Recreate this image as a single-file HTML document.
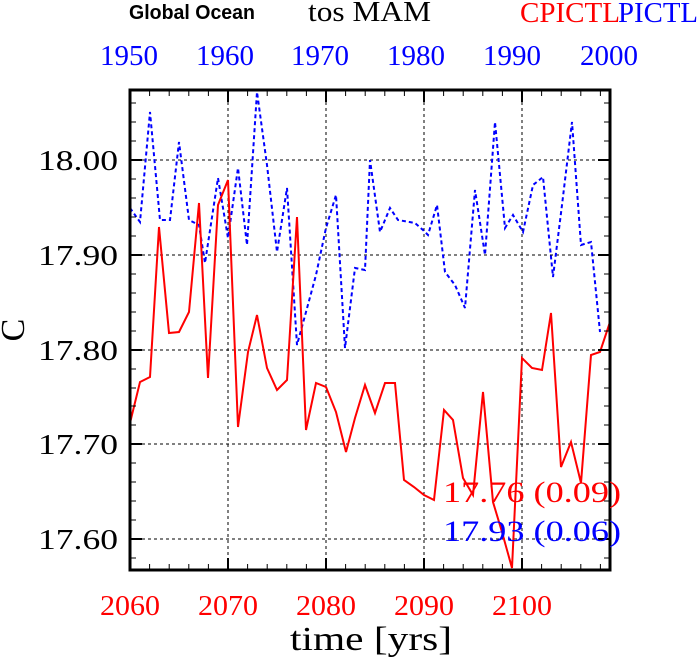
<!DOCTYPE html>
<html><head><style>html,body{margin:0;padding:0;background:#fff}svg{display:block}</style></head>
<body>
<svg width="698" height="660" xmlns="http://www.w3.org/2000/svg" font-family="Liberation Serif, serif">
<rect width="698" height="660" fill="#fff"/>
<g stroke="#000" stroke-width="1" stroke-dasharray="3,3">
<line x1="228" y1="90" x2="228" y2="570"/><line x1="326" y1="90" x2="326" y2="570"/>
<line x1="424" y1="90" x2="424" y2="570"/><line x1="522" y1="90" x2="522" y2="570"/>
<line x1="130" y1="160" x2="610" y2="160"/><line x1="130" y1="255" x2="610" y2="255"/>
<line x1="130" y1="350" x2="610" y2="350"/><line x1="130" y1="444" x2="610" y2="444"/>
<line x1="130" y1="539" x2="610" y2="539"/>
</g>
<polyline fill="none" stroke="#00f" stroke-width="2" stroke-dasharray="4,3" points="130,208 140,222 150,112 160,220 170,220 179,142 189,220 199,225 205,263 218,178 228,238 238,168 247,245 257,92 267,165 277,252 287,188 297,345 306,312 316,275 326,228 336,195 345,348 355,268 365,270 370,160 380,232 390,208 398,220 415,223 423,230 428,235 437,205 445,272 455,285 465,308 475,190 485,255 495,122 505,228 513,215 523,232 533,185 543,177 553,277 562,205 572,122 581,245 591,242 600,332"/>
<polyline fill="none" stroke="#f00" stroke-width="2" points="130,423 140,382 150,377 159,227 169,333 179,332 189,312 199,203 208,378 218,205 228,180 238,427 248,352 257,315 267,368 277,390 287,380 297,217 306,430 316,383 326,387 336,412 346,452 355,418 365,385 375,413 385,383 395,383 404,480 414,487 424,495 434,500 444,410 453,420 463,478 473,495 483,392 493,502 502,532 512,568 522,358 532,368 542,370 551,313 561,467 571,442 581,483 591,355 600,352 610,322"/>
<rect x="130" y="90" width="480" height="480" fill="none" stroke="#000" stroke-width="3"/>
<g stroke="#000" stroke-width="2">
<path d="M130,90v12M228,90v12M326,90v12M424,90v12M522,90v12M130,570v-12M228,570v-12M326,570v-12M424,570v-12M522,570v-12"/>
<path d="M130,160h12M130,255h12M130,350h12M130,444h12M130,539h12M610,160h-12M610,255h-12M610,350h-12M610,444h-12M610,539h-12"/>
</g>
<g stroke="#000" stroke-width="1">
<path d="M149.6,90v6M169.2,90v6M188.8,90v6M208.4,90v6M247.6,90v6M267.2,90v6M286.8,90v6M306.4,90v6M345.6,90v6M365.2,90v6M384.8,90v6M404.4,90v6M443.6,90v6M463.2,90v6M482.8,90v6M502.4,90v6M541.6,90v6M561.2,90v6M580.8,90v6M600.4,90v6"/>
<path d="M149.6,570v-6M169.2,570v-6M188.8,570v-6M208.4,570v-6M247.6,570v-6M267.2,570v-6M286.8,570v-6M306.4,570v-6M345.6,570v-6M365.2,570v-6M384.8,570v-6M404.4,570v-6M443.6,570v-6M463.2,570v-6M482.8,570v-6M502.4,570v-6M541.6,570v-6M561.2,570v-6M580.8,570v-6M600.4,570v-6"/>
<path d="M130,103h6M130,122h6M130,141h6M130,179h6M130,198h6M130,217h6M130,236h6M130,274h6M130,293h6M130,312h6M130,331h6M130,369h6M130,388h6M130,406h6M130,425h6M130,463h6M130,482h6M130,501h6M130,520h6M130,558h6"/>
<path d="M610,103h-6M610,122h-6M610,141h-6M610,179h-6M610,198h-6M610,217h-6M610,236h-6M610,274h-6M610,293h-6M610,312h-6M610,331h-6M610,369h-6M610,388h-6M610,406h-6M610,425h-6M610,463h-6M610,482h-6M610,501h-6M610,520h-6M610,558h-6"/>
</g>
<g font-size="29" text-anchor="end" fill="#000">
<text x="118" y="170" textLength="80" lengthAdjust="spacingAndGlyphs">18.00</text>
<text x="118" y="265" textLength="80" lengthAdjust="spacingAndGlyphs">17.90</text>
<text x="118" y="360" textLength="80" lengthAdjust="spacingAndGlyphs">17.80</text>
<text x="118" y="454" textLength="80" lengthAdjust="spacingAndGlyphs">17.70</text>
<text x="118" y="549" textLength="80" lengthAdjust="spacingAndGlyphs">17.60</text>
</g>
<g font-size="29" text-anchor="middle" fill="#f00">
<text x="130" y="615" textLength="60" lengthAdjust="spacingAndGlyphs">2060</text><text x="228" y="615" textLength="60" lengthAdjust="spacingAndGlyphs">2070</text><text x="326" y="615" textLength="60" lengthAdjust="spacingAndGlyphs">2080</text>
<text x="424" y="615" textLength="60" lengthAdjust="spacingAndGlyphs">2090</text><text x="522" y="615" textLength="60" lengthAdjust="spacingAndGlyphs">2100</text>
</g>
<g font-size="29" text-anchor="middle" fill="#00f">
<text x="129" y="65" textLength="58" lengthAdjust="spacingAndGlyphs">1950</text><text x="225" y="65" textLength="58" lengthAdjust="spacingAndGlyphs">1960</text><text x="320" y="65" textLength="58" lengthAdjust="spacingAndGlyphs">1970</text>
<text x="416" y="65" textLength="58" lengthAdjust="spacingAndGlyphs">1980</text><text x="512" y="65" textLength="58" lengthAdjust="spacingAndGlyphs">1990</text><text x="609" y="65" textLength="58" lengthAdjust="spacingAndGlyphs">2000</text>
</g>
<text x="290" y="650" font-size="34" textLength="162" lengthAdjust="spacingAndGlyphs">time [yrs]</text>
<text transform="translate(24,330) rotate(-90)" font-size="34" text-anchor="middle">C</text>
<text x="129" y="19" font-family="Liberation Sans, sans-serif" font-weight="bold" font-size="20" textLength="126" lengthAdjust="spacingAndGlyphs">Global Ocean</text>
<text x="308" y="21" font-size="29" textLength="123" lengthAdjust="spacingAndGlyphs">tos MAM</text>
<text x="520" y="22" font-size="29" fill="#f00" textLength="100" lengthAdjust="spacingAndGlyphs">CPICTL</text>
<text x="618" y="22" font-size="29" fill="#00f" textLength="80" lengthAdjust="spacingAndGlyphs">PICTL</text>
<text x="443" y="502" font-size="30" fill="#f00" textLength="178" lengthAdjust="spacingAndGlyphs">17.76 (0.09)</text>
<text x="443" y="541" font-size="30" fill="#00f" textLength="178" lengthAdjust="spacingAndGlyphs">17.93 (0.06)</text>
</svg>
</body></html>
